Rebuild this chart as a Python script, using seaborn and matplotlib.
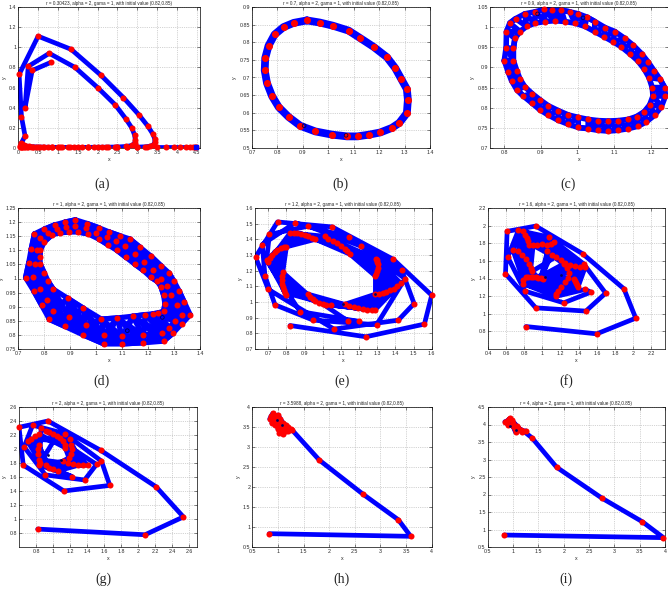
import numpy as np
import pandas as pd
import matplotlib
matplotlib.use("Agg")
import matplotlib.pyplot as plt
import seaborn as sns

sns.set_theme(style="white")
plt.rcParams['font.family'] = ['Liberation Sans', 'DejaVu Sans']

# ---------------- data ----------------
r_values = ["0.30423", "0.7", "0.9", "1", "1.2", "1.6", "2", "3.5988", "4"]
letters = ["(a)", "(b)", "(c)", "(d)", "(e)", "(f)", "(g)", "(h)", "(i)"]

a_pts = [(0.82,0.85),(0.35,0.77),(0.17,0.40),(0.25,0.81),(0.78,0.94),(1.43,0.80),(2.00,0.60),(2.44,0.43),
         (2.71,0.29),(2.86,0.20),(2.93,0.13),(2.95,0.08),(2.93,0.045),(2.86,0.025),(2.72,0.015),(2.50,0.010),
         (2.20,0.008),(1.90,0.007),(1.60,0.006),(1.30,0.006),(1.05,0.006),(0.85,0.007),(0.66,0.008),(0.50,0.010),
         (0.38,0.012),(0.28,0.015),(0.20,0.02),(0.14,0.025),(0.10,0.035),(0.08,0.05),(0.17,0.12),(0.08,0.31),
         (0.02,0.73),(0.50,1.11),(1.33,0.98),(2.09,0.72),(2.65,0.50),(3.04,0.33),(3.26,0.22),(3.39,0.14),
         (3.44,0.09),(3.44,0.055),(3.40,0.03),(3.32,0.018),(3.20,0.012),(3.00,0.009),(2.75,0.007),(2.45,0.006),
         (2.10,0.005),(1.75,0.005),(1.40,0.005),(1.10,0.005),(0.85,0.005),(0.62,0.005),(0.45,0.006),(0.32,0.007),
         (0.22,0.008),(0.15,0.01),(0.10,0.012),(0.07,0.015),(0.05,0.02),(0.04,0.01),(0.06,0.008),(0.10,0.006),
         (0.16,0.005),(0.25,0.005),(0.38,0.005),(0.55,0.005),(0.75,0.005),(1.00,0.005),(1.25,0.005),(1.50,0.005),
         (1.75,0.005),(2.00,0.005),(2.25,0.005),(2.50,0.005),(2.75,0.005),(3.00,0.005),(3.25,0.005),(3.50,0.005),
         (3.72,0.005),(3.92,0.005),(4.08,0.005),(4.22,0.005),(4.32,0.005),(4.40,0.005),(4.45,0.005),(4.48,0.005)]
a_end = [(4.48, 0.005)]

b_ring = [(0.916,0.862),(0.966,0.856),(1.018,0.847),(1.080,0.833),(1.125,0.812),(1.178,0.787),(1.230,0.758),
          (1.263,0.727),(1.286,0.697),(1.309,0.667),(1.313,0.637),(1.309,0.599),(1.279,0.571),(1.250,0.557),
          (1.204,0.544),(1.161,0.538),(1.115,0.533),(1.073,0.533),(1.014,0.538),(0.949,0.547),(0.890,0.563),
          (0.844,0.588),(0.805,0.616),(0.779,0.647),(0.759,0.684),(0.750,0.720),(0.752,0.755),(0.765,0.790),
          (0.789,0.822),(0.824,0.843),(0.864,0.855)]
b_dots = [(0.905,0.563),(1.07,0.536)]

c_outer = [(0.800,0.917),(0.805,0.949),(0.806,0.989),(0.815,1.010),(0.831,1.021),(0.856,1.033),(0.884,1.038),
           (0.908,1.044),(0.931,1.042),(0.956,1.042),(0.979,1.038),(1.002,1.033),(1.025,1.025),(1.047,1.014),
           (1.075,0.999),(1.102,0.989),(1.129,0.972),(1.152,0.955),(1.175,0.934),(1.193,0.913),(1.209,0.892),
           (1.225,0.871),(1.238,0.850),(1.240,0.829),(1.229,0.803),(1.211,0.782),(1.188,0.765),(1.165,0.754),
           (1.138,0.748),(1.111,0.744),(1.084,0.742),(1.056,0.744),(1.029,0.748),(1.002,0.751),(0.975,0.759),
           (0.947,0.769),(0.920,0.782),(0.897,0.795),(0.875,0.812),(0.852,0.829),(0.834,0.845),(0.820,0.867),
           (0.811,0.888)]
c_inner = [(0.825,0.917),(0.825,0.947),(0.829,0.972),(0.843,0.989),(0.861,1.002),(0.884,1.010),(0.911,1.014),
           (0.938,1.016),(0.965,1.014),(0.993,1.010),(1.020,1.002),(1.047,0.989),(1.073,0.976),(1.097,0.964),
           (1.120,0.951),(1.143,0.934),(1.164,0.917),(1.182,0.896),(1.195,0.875),(1.204,0.850),(1.206,0.829),
           (1.197,0.807),(1.182,0.790),(1.161,0.778),(1.138,0.771),(1.111,0.768),(1.084,0.767),(1.056,0.768),
           (1.029,0.771),(1.002,0.776),(0.975,0.782),(0.947,0.793),(0.920,0.805),(0.897,0.820),(0.876,0.835),
           (0.856,0.852),(0.843,0.871),(0.834,0.892)]
c_center = (1.02, 0.89)
c_dots = [(0.891,1.033),(1.015,1.023)]

d_outer = [(0.82,0.855),(0.79,0.905),(0.76,0.955),(0.728,1.003),(0.74,1.055),(0.75,1.105),(0.762,1.158),
           (0.80,1.175),(0.84,1.19),(0.88,1.20),(0.92,1.208),(0.965,1.195),(1.01,1.18),(1.05,1.165),(1.09,1.152),
           (1.13,1.14),(1.17,1.11),(1.21,1.08),(1.25,1.045),(1.28,1.02),(1.30,0.99),(1.32,0.955),(1.34,0.915),
           (1.362,0.872),(1.33,0.84),(1.295,0.805),(1.26,0.778),(1.18,0.772),(1.10,0.768),(1.03,0.768),
           (0.95,0.80),(0.88,0.83)]
d_mid = [(0.835,0.885),(0.81,0.925),(0.785,0.962),(0.755,1.005),(0.765,1.05),(0.772,1.10),(0.782,1.142),
         (0.815,1.163),(0.85,1.175),(0.885,1.182),(0.92,1.187),(0.962,1.178),(1.0,1.163),(1.04,1.148),
         (1.075,1.133),(1.11,1.115),(1.15,1.088),(1.185,1.06),(1.22,1.03),(1.25,1.0),(1.272,0.975),(1.29,0.94),
         (1.31,0.905),(1.33,0.87),(1.305,0.85),(1.28,0.825),(1.255,0.805),(1.18,0.80),(1.10,0.795),(1.03,0.80),
         (0.96,0.835),(0.895,0.862)]
d_inner = [(0.835,0.962),(0.815,0.99),(0.80,1.02),(0.785,1.05),(0.783,1.075),(0.785,1.10),(0.80,1.13),
           (0.83,1.155),(0.86,1.162),(0.895,1.165),(0.93,1.165),(0.97,1.158),(1.01,1.14),(1.045,1.12),(1.08,1.10),
           (1.115,1.075),(1.15,1.05),(1.18,1.03),(1.21,1.005),(1.235,0.99),(1.25,0.97),(1.26,0.94),(1.265,0.91),
           (1.26,0.885),(1.24,0.878),(1.22,0.875),(1.19,0.872),(1.14,0.866),(1.08,0.86),(1.02,0.856),
           (0.95,0.895),(0.89,0.93)]
d_dots = [(1.12,0.815),(1.255,0.862)]

e_outer = [(0.82,0.85),(1.238,0.778),(1.56,0.859),(1.60,1.043),(1.389,1.272),(1.053,1.479),(0.751,1.511),
           (0.630,1.287),(0.70,1.081),(1.062,0.827),(1.416,0.884),(1.503,0.99),(1.435,1.202),(1.146,1.414),
           (0.847,1.505),(0.667,1.367),(0.682,1.166),(0.737,0.982),(0.948,0.884),(1.297,0.855),(1.453,1.149),
           (1.211,1.356),(0.92,1.484),(0.706,1.431),(0.691,1.265),(0.875,0.939),(1.20,0.876),(1.137,0.88)]
e_arcs = [
    [(0.92,1.05),(0.93,1.035),(0.945,1.02),(0.96,1.005),(0.98,0.995),(1.0,0.988),(1.02,0.983),(1.045,0.98)],
    [(1.12,0.985),(1.145,0.975),(1.17,0.965),(1.195,0.96),(1.22,0.955),(1.245,0.952),(1.27,0.95),(1.29,0.952)],
    [(1.29,1.05),(1.31,1.052),(1.33,1.058),(1.35,1.065),(1.37,1.075),(1.39,1.085),(1.41,1.10),(1.43,1.12)],
    [(1.29,1.165),(1.295,1.18),(1.30,1.20),(1.303,1.22),(1.303,1.24),(1.30,1.255),(1.298,1.265),(1.295,1.275)],
    [(1.15,1.305),(1.135,1.325),(1.12,1.34),(1.10,1.36),(1.08,1.375),(1.055,1.39),(1.03,1.405),(1.01,1.42)],
    [(0.96,1.40),(0.94,1.41),(0.92,1.42),(0.90,1.43),(0.88,1.435),(0.86,1.44),(0.84,1.44),(0.82,1.44)],
    [(0.80,1.352),(0.785,1.35),(0.77,1.345),(0.75,1.335),(0.735,1.32),(0.72,1.30),(0.71,1.28),(0.70,1.255)],
    [(0.78,1.19),(0.777,1.165),(0.776,1.14),(0.777,1.115),(0.78,1.095),(0.785,1.075),(0.79,1.06),(0.80,1.045)],
]
e_dots = [(1.113,0.986),(1.288,1.05)]

f_outer = [(0.818,0.855),(1.60,0.772),(2.03,0.95),(1.90,1.283),(1.444,1.681),(0.927,1.995),(0.611,1.935),
           (0.593,1.454),(0.927,1.067),(1.48,1.03),(1.698,1.234),(1.455,1.567),(1.073,1.87),(0.735,1.946),
           (0.618,1.643),(0.807,1.257),(1.236,1.124),(1.535,1.245),(1.473,1.276),(1.145,1.196)]
f_arcs = [
    [(0.789,1.34),(0.789,1.378),(0.818,1.416),(0.845,1.418),(0.873,1.416),(0.90,1.416),(0.927,1.416),(0.955,1.41),(0.982,1.405),(1.01,1.40)],
    [(1.149,1.223),(1.174,1.26),(1.21,1.306),(1.255,1.356),(1.283,1.405),(1.29,1.465),(1.27,1.518),(1.236,1.567)],
    [(1.393,1.302),(1.383,1.33),(1.371,1.352),(1.36,1.375),(1.345,1.397)],
    [(1.473,1.53),(1.418,1.534),(1.364,1.541),(1.31,1.556),(1.255,1.578),(1.20,1.605),(1.145,1.643),(1.102,1.67),(1.055,1.708)],
    [(1.127,1.814),(1.10,1.795),(1.055,1.783),(1.0,1.787),(0.945,1.783),(0.898,1.776)],
    [(0.789,1.935),(0.811,1.897),(0.829,1.859),(0.844,1.821),(0.847,1.783)],
    [(0.673,1.727),(0.727,1.708),(0.775,1.67),(0.818,1.617),(0.847,1.567),(0.873,1.518),(0.884,1.48)],
]
f_dots = [(1.03,1.416),(1.20,1.44)]

g_outer = [(0.82,0.856),(2.08,0.775),(2.53,1.03),(2.21,1.46),(1.56,1.98),(0.94,2.40),(0.60,2.31),(0.65,1.77),
           (1.127,1.40),(1.666,1.48),(1.568,1.827),(1.135,2.22),(0.76,2.34),(0.66,2.03),(0.91,1.63),(1.37,1.557),
           (1.51,1.78),(0.86,2.30),(0.84,1.77),(1.225,1.605)]
g_arcs = [
    [(0.918,1.766),(0.957,1.733),(1.0,1.71),(1.056,1.685)],
    [(1.115,1.827),(1.174,1.804),(1.233,1.78),(1.29,1.766),(1.35,1.766),(1.41,1.766)],
    [(1.186,1.875),(1.213,1.922),(1.225,1.993),(1.213,2.064),(1.194,2.136)],
    [(1.143,2.017),(1.135,2.064),(1.115,2.112),(1.083,2.16),(1.044,2.19),(0.997,2.22),(0.957,2.24),(0.918,2.254)],
    [(0.84,2.21),(0.79,2.18),(0.74,2.145),(0.70,2.11)],
    [(0.83,2.064),(0.82,1.993),(0.82,1.922),(0.83,1.85),(0.847,1.794)],
]
g_dots = [(0.94,1.913),(1.095,1.84)]

h_pts = [(0.83,0.833),(3.59,0.767),(3.35,1.18),(2.65,1.83),(1.81,2.67),(1.28,3.42),(1.25,3.44),(1.20,3.40),
         (1.15,3.40),(1.10,3.32),(1.03,3.35),(1.08,3.42),(1.05,3.48),(1.02,3.55),(0.98,3.62),(0.95,3.72),
         (0.93,3.80),(0.90,3.84),(0.87,3.78),(0.84,3.70),(0.90,3.72),(0.92,3.65),(0.88,3.60),(0.95,3.55),
         (1.00,3.50),(1.05,3.62),(1.12,3.50),(1.20,3.50),(0.97,3.70),(1.00,3.80),(1.05,3.70),(1.10,3.60),
         (1.15,3.55),(1.05,3.40),(1.00,3.45)]
h_dots = [(0.99,3.68),(1.086,3.56)]

i_pts = [(0.826,0.842),(3.97,0.767),(3.555,1.22),(2.75,1.90),(1.86,2.78),(1.373,3.62),(1.20,3.82),(1.10,3.90),
         (1.00,4.05),(0.95,4.18),(0.88,4.10),(0.84,4.08),(0.90,4.00),(1.00,3.95),(1.05,3.78),(1.10,3.85),
         (1.15,3.85),(1.08,3.95),(0.98,4.12),(0.92,4.15),(1.03,3.88),(1.18,3.80),(1.25,3.82)]
i_dots = [(0.94,3.96),(1.05,3.84)]

# ---------------- helpers (ordering only) ----------------
def closed(ring):
    return list(ring) + [ring[0]]

def angle_sorted(rings, center):
    pts = np.array([p for r in rings for p in r])
    ang = np.arctan2(pts[:, 1] - center[1], pts[:, 0] - center[0])
    pts = pts[np.argsort(ang)]
    return np.vstack([pts, pts[:1]])

def snake(rings):
    out = []
    n = len(rings[0])
    for k in range(n + 1):
        seq = [r[k % n] for r in rings]
        out.extend(seq if k % 2 == 0 else seq[::-1])
    return out

def alt(r1, r2):
    n = len(r1)
    return [(r1 if k % 2 == 0 else r2)[k % n] for k in range(n + 1)]

def interleave(arcs):
    out = []
    n = max(len(a) for a in arcs)
    for k in range(n):
        for a in arcs:
            if k < len(a):
                out.append(a[k])
    return out

W, H = 668, 591
fig = plt.figure(figsize=(W / 100, H / 100), dpi=100)

def rect(l, r, t, b):
    return [l / W, 1 - b / H, (r - l) / W, (b - t) / H]

def panel(idx, box, paths, marks, xlim, ylim, xticks, yticks, lw=3.4, ms=19,
          dots=None, dots_open=False, end=None):
    ax = fig.add_axes(rect(*box))
    frames = []
    for u, p in enumerate(paths):
        p = np.asarray(p)
        frames.append(pd.DataFrame({"x": p[:, 0], "y": p[:, 1], "u": u}))
    dl = pd.concat(frames, ignore_index=True)
    sns.lineplot(data=dl, x="x", y="y", units="u", sort=False, estimator=None, color="blue",
                 lw=lw, ax=ax, solid_joinstyle="round", solid_capstyle="round", zorder=2)
    m = np.asarray(marks)
    dm = pd.DataFrame({"x": m[:, 0], "y": m[:, 1]})
    sns.scatterplot(data=dm, x="x", y="y", color="red", s=ms, linewidth=0, ax=ax, zorder=3, clip_on=False)
    if end is not None:
        e = np.asarray(end)
        ax.scatter(e[:, 0], e[:, 1], marker="s", color="blue", s=10, zorder=4, clip_on=False)
    if dots is not None:
        d = np.asarray(dots)
        if dots_open:
            ax.scatter(d[:, 0], d[:, 1], s=7, facecolors="none", edgecolors="#000050", linewidths=0.6, zorder=4)
        else:
            ax.scatter(d[:, 0], d[:, 1], s=4, color="#000060", linewidths=0, zorder=4)
    ax.set_xlim(*xlim)
    ax.set_ylim(*ylim)
    ax.set_xticks(xticks)
    ax.set_yticks(yticks)
    ax.set_xticklabels([("%g" % v) for v in xticks])
    ax.set_yticklabels([("%g" % v) for v in yticks])
    ax.grid(True, ls=":", lw=0.5, color="#aaaaaa")
    ax.set_axisbelow(True)
    ax.tick_params(direction="in", length=2, width=0.4, labelsize=3.8, pad=1.5,
                   bottom=True, left=True, top=True, right=True, labeltop=False, labelright=False)
    for s in ax.spines.values():
        s.set_linewidth(0.5)
        s.set_color("black")
    ax.set_xlabel("x", fontsize=3.8, labelpad=1.5)
    ax.set_ylabel("y", fontsize=3.8, labelpad=1.5)
    ax.set_title("r = %s, alpha = 2, gama = 1, with initial value (0.82,0.85)" % r_values[idx],
                 fontsize=3.3, pad=1.5)
    return ax

ar = np.arange
panel(0, (18.3, 200, 7, 148), [a_pts], a_pts, (0, 4.58), (0, 1.4), ar(0, 4.51, 0.5), ar(0, 1.41, 0.2),
      end=a_end)
panel(1, (252, 430, 7, 148), [closed(b_ring)], b_ring, (0.7, 1.4), (0.5, 0.9),
      ar(0.7, 1.41, 0.1), ar(0.5, 0.901, 0.05), lw=5.6, ms=26, dots=b_dots, dots_open=True)
panel(2, (490, 668, 7, 148), [closed(c_outer), closed(c_inner), angle_sorted([c_outer, c_inner], c_center)],
      c_outer + c_inner, (0.761, 1.247), (0.7, 1.05),
      ar(0.8, 1.21, 0.1), ar(0.7, 1.051, 0.05), lw=4.0, dots=c_dots, dots_open=True)
panel(3, (18.3, 200, 208, 349),
      [closed(d_outer), closed(d_mid), closed(d_inner), snake([d_outer, d_mid, d_inner]),
       alt(d_outer, d_inner), alt(d_inner, d_outer), alt(d_outer, d_mid), alt(d_mid, d_inner),
       alt(d_mid, d_outer), alt(d_inner, d_mid)],
      d_outer + d_mid + d_inner, (0.7, 1.4), (0.75, 1.25),
      ar(0.7, 1.41, 0.1), ar(0.75, 1.251, 0.05), lw=3.8, dots=d_dots, dots_open=True)
panel(4, (255, 431.7, 208, 349), [e_outer + interleave(e_arcs)], e_outer + interleave(e_arcs),
      (0.627, 1.60), (0.7, 1.6), ar(0.7, 1.61, 0.1), ar(0.7, 1.61, 0.1), dots=e_dots)
panel(5, (488, 665, 208, 349), [f_outer + interleave(f_arcs)], f_outer + interleave(f_arcs),
      (0.4, 2.353), (0.6, 2.2), ar(0.4, 2.21, 0.2), ar(0.8, 2.21, 0.2), dots=f_dots)
panel(6, (19, 197, 407, 547), [g_outer + interleave(g_arcs)], g_outer + interleave(g_arcs),
      (0.6, 2.69), (0.6, 2.6), ar(0.8, 2.61, 0.2), ar(0.8, 2.61, 0.2), dots=g_dots)
panel(7, (252.3, 431.7, 407, 547), [h_pts], h_pts, (0.5, 4.0), (0.5, 4.0),
      ar(0.5, 4.01, 0.5), ar(0.5, 4.01, 0.5), dots=h_dots)
panel(8, (487.7, 665, 407, 547), [i_pts], i_pts, (0.5, 4.0), (0.5, 4.5),
      ar(0.5, 4.01, 0.5), ar(0.5, 4.51, 0.5), dots=i_dots)

label_pos = [(102, 184), (340, 184), (568, 184), (102, 381), (342, 381), (566, 381),
             (103, 579), (342, 579), (566, 579)]
for lab, (x, y) in zip(letters, label_pos):
    fig.text(x / W, 1 - y / H, lab, family="Liberation Serif", fontsize=10, ha="center", va="center")

fig.savefig("out.png", dpi=100)
